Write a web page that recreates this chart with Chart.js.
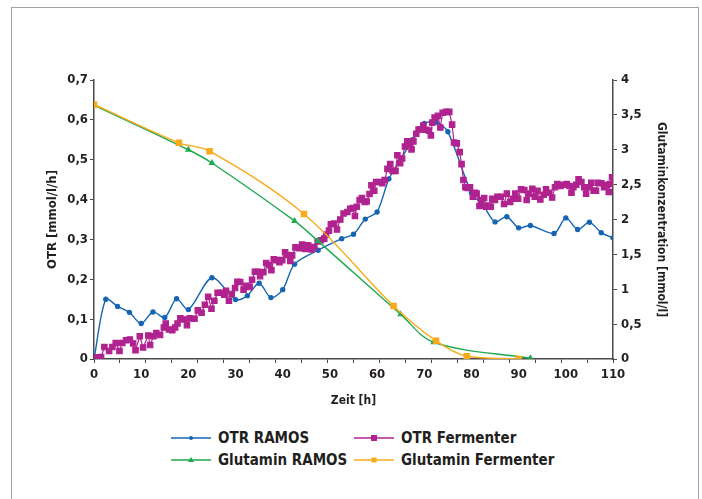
<!DOCTYPE html>
<html lang="de">
<head>
<meta charset="UTF-8">
<title>OTR und Glutaminkonzentration</title>
<script src="https://cdn.jsdelivr.net/npm/chart.js@4.4.1/dist/chart.umd.min.js"></script>
<style>
    body {
        margin: 0;
        background: #fff;
        font-family: 'DejaVu Sans Condensed', 'DejaVu Sans', sans-serif;
        color: #231f20;
    }
    .frame {
        position: absolute;
        left: 11px;
        top: 7px;
        width: 686px;
        height: 600px;
        border: 1px solid #a0a0a0;
    }
    #chartBox {
        position: absolute;
        left: 0;
        top: 0;
        width: 702px;
        height: 420px;
    }
    .item {
        position: absolute;
        height: 18px;
        display: flex;
        align-items: center;
        font-weight: bold;
        font-size: 15px;
        white-space: nowrap;
    }
    .item svg {
        margin-right: 7px;
    }
</style>
</head>
<body>
<div class="frame"></div>
<div id="chartBox"><canvas id="otrChart" width="702" height="420"></canvas></div>

<div class="item" style="left:171px;top:429px">
    <svg width="40" height="18"><line x1="0" y1="9" x2="40" y2="9" stroke="#1565b4" stroke-width="1.5"/><circle cx="20" cy="9" r="2" fill="#1565b4"/></svg>OTR RAMOS
</div>
<div class="item" style="left:354px;top:429px">
    <svg width="40" height="18"><line x1="0" y1="9" x2="40" y2="9" stroke="#b0238f" stroke-width="1.5"/><rect x="17" y="6" width="6" height="6" fill="#b0238f"/></svg>OTR Fermenter
</div>
<div class="item" style="left:171px;top:451px">
    <svg width="40" height="18"><line x1="0" y1="9" x2="40" y2="9" stroke="#1fa84f" stroke-width="1.5"/><path d="M20 6 L23 11 L17 11 Z" fill="#1fa84f"/></svg>Glutamin RAMOS
</div>
<div class="item" style="left:354px;top:451px">
    <svg width="40" height="18"><line x1="0" y1="9" x2="40" y2="9" stroke="#f8aa1c" stroke-width="1.5"/><rect x="17.5" y="6.5" width="5" height="5" fill="#f8aa1c"/></svg>Glutamin Fermenter
</div>

<script>
    // Zeitachse [h]
    const xLabels = [0, 10, 20, 30, 40, 50, 60, 70, 80, 90, 100, 110];
    const xMarkStep = 5.5;

    // OTR RAMOS [mmol/l/h]
    const ramosTime = [0, 2.5, 5, 7.5, 10, 12.5, 15, 17.5, 20, 25, 30, 32.5, 35, 37.5, 40, 42.5, 47.5, 52.5, 55, 57.5,
        60, 62.5, 65, 67.5, 70, 72.5, 75, 80, 82.5, 85, 87.5, 90, 92.5, 97.5, 100, 102.5, 105, 107.5, 110];
    const ramosOtr = [0, 0.150, 0.132, 0.117, 0.089, 0.118, 0.104, 0.151, 0.124, 0.204, 0.149, 0.159, 0.190, 0.154, 0.174, 0.238, 0.273, 0.302, 0.313, 0.351,
        0.369, 0.452, 0.500, 0.550, 0.591, 0.594, 0.570, 0.417, 0.385, 0.344, 0.357, 0.329, 0.335, 0.315, 0.354, 0.325, 0.343, 0.317, 0.304];

    // OTR Fermenter [mmol/l/h]
    const fermTime = [0.2, 1.5, 2.2, 3.2, 3.9, 4.6, 5.4, 6.0, 6.8, 7.6,
        8.3, 8.8, 9.7, 10.4, 11.5, 11.9, 12.6, 13.2, 14.0, 14.8,
        15.2, 15.9, 16.6, 17.2, 17.7, 18.3, 19.0, 19.7, 20.3, 21.3,
        22.0, 22.8, 23.5, 24.2, 24.9, 25.5, 26.2, 26.9, 27.6, 28.0,
        28.6, 29.2, 29.9, 30.4, 31.0, 31.7, 32.3, 33.0, 33.5, 34.1,
        34.7, 35.2, 35.9, 36.5, 37.1, 37.6, 38.1, 38.8, 39.3, 39.9,
        40.5, 41.0, 41.6, 42.0, 42.7, 43.4, 44.1, 44.8, 45.4, 46.1,
        46.7, 47.4, 48.1, 48.8, 49.2, 49.8, 50.2, 50.9, 51.5, 52.2,
        52.9, 53.7, 54.3, 54.9, 55.3, 55.7, 56.3, 56.8, 57.4, 57.8,
        58.4, 58.8, 59.4, 59.8, 60.5, 61.1, 61.6, 62.2, 62.8, 63.3,
        63.9, 64.3, 64.9, 65.3, 65.9, 66.4, 67.0, 67.3, 67.7, 68.3,
        68.8, 69.3, 69.8, 70.4, 71.0, 71.4, 71.7, 72.2, 72.9, 73.4,
        73.9, 74.6, 75.3, 75.9, 76.3, 76.9, 77.5, 77.9, 78.3, 78.7,
        79.2, 79.7, 80.3, 80.7, 81.1, 81.7, 82.1, 82.7, 83.1, 83.7,
        84.1, 84.4, 85.0, 85.5, 86.2, 86.9, 87.5, 88.2, 88.8, 89.3,
        89.9, 90.5, 91.2, 91.7, 92.2, 92.9, 93.4, 94.0, 94.6, 95.3,
        95.8, 96.5, 97.1, 97.7, 98.2, 98.9, 99.5, 100.2, 100.8, 101.2,
        101.6, 102.2, 102.7, 103.3, 103.9, 104.3, 104.9, 105.4, 105.9, 106.4,
        106.8, 107.5, 108.1, 108.7, 109.1, 109.4, 109.8];
    const fermOtr = [0.004, 0.005, 0.030, 0.020, 0.030, 0.040, 0.020, 0.040, 0.047, 0.049,
        0.039, 0.022, 0.057, 0.029, 0.059, 0.035, 0.057, 0.065, 0.060, 0.079,
        0.089, 0.074, 0.072, 0.079, 0.089, 0.102, 0.099, 0.085, 0.102, 0.101,
        0.122, 0.116, 0.136, 0.156, 0.126, 0.146, 0.166, 0.166, 0.161, 0.171,
        0.146, 0.163, 0.178, 0.194, 0.193, 0.174, 0.184, 0.181, 0.199, 0.219,
        0.219, 0.208, 0.218, 0.241, 0.235, 0.223, 0.250, 0.248, 0.243, 0.248,
        0.268, 0.261, 0.246, 0.260, 0.280, 0.278, 0.287, 0.276, 0.285, 0.275,
        0.281, 0.295, 0.298, 0.302, 0.312, 0.322, 0.338, 0.340, 0.325, 0.350,
        0.365, 0.369, 0.377, 0.379, 0.359, 0.382, 0.399, 0.404, 0.394, 0.395,
        0.414, 0.436, 0.422, 0.444, 0.444, 0.441, 0.449, 0.477, 0.489, 0.472,
        0.472, 0.511, 0.491, 0.503, 0.533, 0.546, 0.541, 0.526, 0.546, 0.565,
        0.576, 0.576, 0.586, 0.575, 0.573, 0.561, 0.593, 0.606, 0.610, 0.581,
        0.618, 0.620, 0.620, 0.588, 0.543, 0.541, 0.519, 0.489, 0.449, 0.431,
        0.429, 0.431, 0.407, 0.417, 0.415, 0.384, 0.399, 0.404, 0.382, 0.385,
        0.382, 0.402, 0.399, 0.407, 0.407, 0.389, 0.415, 0.394, 0.402, 0.415,
        0.402, 0.426, 0.424, 0.399, 0.415, 0.427, 0.407, 0.422, 0.400, 0.412,
        0.426, 0.417, 0.405, 0.431, 0.439, 0.434, 0.437, 0.439, 0.434, 0.417,
        0.431, 0.437, 0.451, 0.444, 0.431, 0.415, 0.431, 0.442, 0.422, 0.422,
        0.442, 0.441, 0.431, 0.437, 0.419, 0.439, 0.456];

    // Glutamin [mmol/l]
    const glnRamosTime = [0, 20, 25, 42.5, 47.5, 65, 72, 92.5];
    const glnRamos = [3.64, 3.00, 2.81, 1.98, 1.69, 0.64, 0.24, 0.01];
    const glnFermTime = [0, 18, 24.5, 44.5, 63.5, 72.5, 79, 90];
    const glnFerm = [3.65, 3.10, 2.98, 2.08, 0.76, 0.26, 0.04, 0.0];

    const textColor = '#231f20';
    const axisColor = '#4a4a4a';
    const fontFamily = "'DejaVu Sans Condensed', 'DejaVu Sans', sans-serif";

    function pairs(xs, ys) {
        return xs.map((x, i) => ({ x: x, y: ys[i] }));
    }

    function comma(v) {
        return String(Math.round(v * 10) / 10).replace('.', ',');
    }

    function isMark(v) {
        const k = v / xMarkStep;
        return Math.abs(k - Math.round(k)) < 1e-6;
    }

    const ctx = document.getElementById('otrChart').getContext('2d');
    new Chart(ctx, {
        type: 'line',
        data: {
            datasets: [
                {
                    label: 'Glutamin Fermenter',
                    data: pairs(glnFermTime, glnFerm),
                    yAxisID: 'y2',
                    borderColor: '#f8aa1c',
                    backgroundColor: '#f8aa1c',
                    borderWidth: 1.4,
                    pointStyle: 'rect',
                    pointRadius: 3.6,
                    tension: 0.35
                },
                {
                    label: 'Glutamin RAMOS',
                    data: pairs(glnRamosTime, glnRamos),
                    yAxisID: 'y2',
                    borderColor: '#1fa84f',
                    backgroundColor: '#1fa84f',
                    borderWidth: 1.4,
                    pointStyle: 'triangle',
                    pointRadius: 2.6,
                    tension: 0.35
                },
                {
                    label: 'OTR Fermenter',
                    data: pairs(fermTime, fermOtr),
                    yAxisID: 'y',
                    borderColor: '#b0238f',
                    backgroundColor: '#b0238f',
                    borderWidth: 1.2,
                    pointStyle: 'rect',
                    pointRadius: 3.8,
                    tension: 0
                },
                {
                    label: 'OTR RAMOS',
                    data: pairs(ramosTime, ramosOtr),
                    yAxisID: 'y',
                    borderColor: '#1565b4',
                    backgroundColor: '#1565b4',
                    borderWidth: 1.4,
                    pointStyle: 'circle',
                    pointRadius: 2,
                    tension: 0.3
                }
            ]
        },
        options: {
            responsive: false,
            animation: false,
            layout: { padding: { top: 80, left: 0, right: 0, bottom: 0 } },
            plugins: {
                legend: { display: false },
                tooltip: { enabled: false }
            },
            scales: {
                x: {
                    type: 'linear',
                    min: 0,
                    max: 110,
                    afterFit: (s) => { s.height = 61; },
                    afterBuildTicks: (s) => {
                        const vals = new Set(xLabels);
                        for (let k = 0; k * xMarkStep <= 110 + 1e-6; k++) {
                            vals.add(Math.round(k * xMarkStep * 10) / 10);
                        }
                        s.ticks = [...vals].sort((a, b) => a - b).map(v => ({ value: v }));
                    },
                    ticks: {
                        autoSkip: false,
                        maxRotation: 0,
                        minRotation: 0,
                        padding: 4,
                        color: textColor,
                        font: { family: fontFamily, size: 13, weight: 'bold' },
                        callback: (v) => xLabels.includes(v) ? String(v) : ''
                    },
                    grid: {
                        drawOnChartArea: false,
                        tickLength: 4,
                        tickWidth: 1,
                        tickColor: (c) => (c.tick && isMark(c.tick.value)) ? axisColor : 'rgba(0,0,0,0)'
                    },
                    border: { color: axisColor, width: 1.5 },
                    title: {
                        display: true,
                        text: 'Zeit [h]',
                        color: textColor,
                        font: { family: fontFamily, size: 12, weight: 'bold' },
                        padding: { top: 0, bottom: 12 }
                    }
                },
                y: {
                    position: 'left',
                    min: 0,
                    max: 0.7,
                    afterFit: (s) => { s.width = 94; },
                    ticks: {
                        stepSize: 0.1,
                        padding: 2,
                        color: textColor,
                        font: { family: fontFamily, size: 13, weight: 'bold' },
                        callback: (v) => comma(v)
                    },
                    grid: { drawOnChartArea: false, tickLength: 4, color: axisColor },
                    border: { color: axisColor, width: 1.5 },
                    title: {
                        display: true,
                        text: 'OTR [mmol/l/h]',
                        color: textColor,
                        font: { family: fontFamily, size: 13, weight: 'bold' },
                        padding: { top: 45, bottom: 0 }
                    }
                },
                y2: {
                    position: 'right',
                    min: 0,
                    max: 4,
                    afterFit: (s) => { s.width = 89; },
                    ticks: {
                        stepSize: 0.5,
                        padding: 4,
                        color: textColor,
                        font: { family: fontFamily, size: 13, weight: 'bold' },
                        callback: (v) => comma(v)
                    },
                    grid: { drawOnChartArea: false, tickLength: 4, color: axisColor },
                    border: { color: axisColor, width: 1.5 },
                    title: {
                        display: true,
                        text: 'Glutaminkonzentration [mmol/l]',
                        color: textColor,
                        font: { family: fontFamily, size: 12, weight: 'bold' },
                        padding: { top: 34, bottom: 0 }
                    }
                }
            }
        }
    });
</script>
</body>
</html>
